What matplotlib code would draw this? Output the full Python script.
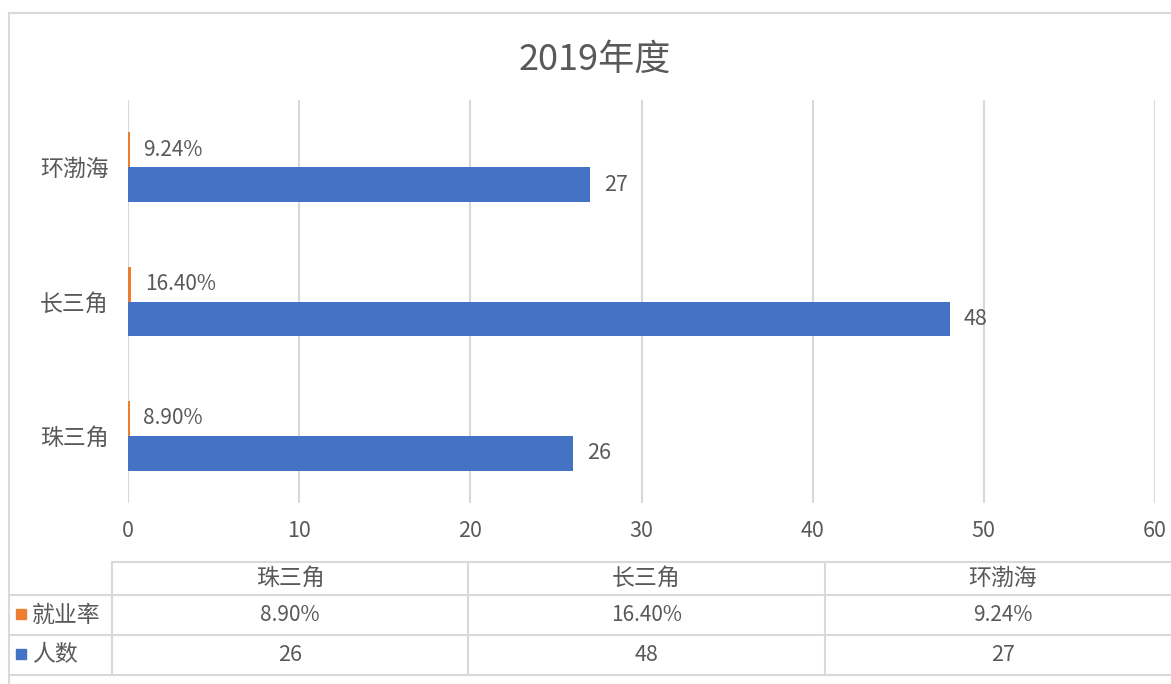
import matplotlib.pyplot as plt
from matplotlib.lines import Line2D
from matplotlib.patches import Rectangle

plt.rcParams['font.family'] = ['Noto Sans CJK SC', 'DejaVu Sans']

regions = ['珠三角', '长三角', '环渤海']
employment_rate = [8.90, 16.40, 9.24]   # percent
headcount = [26, 48, 27]
rate_labels = ['8.90%', '16.40%', '9.24%']
series_names = ['就业率', '人数']

BLUE = '#4472C4'
ORANGE = '#ED7D31'
TEXT = '#595959'
GRID = '#D9D9D9'
CJK_SIZE = 16.5
NUM_SIZE = 15.5
PCT_SIZE = 15

W, H = 1171, 684
fig = plt.figure(figsize=(W / 100, H / 100), dpi=100)


def fx(px):
    return px / W


def fy(py):
    return 1 - py / H


# chart area border (cropped on the right and bottom)
fig.add_artist(Line2D([fx(9), fx(W)], [fy(13), fy(13)], color=GRID, lw=1.5))
fig.add_artist(Line2D([fx(9), fx(9)], [fy(13), fy(H)], color=GRID, lw=1.5))

fig.text(fx(595), fy(60), '2019年度', ha='center', va='center', fontsize=26, color=TEXT)

ax = fig.add_axes([fx(128), fy(503), fx(1155) - fx(128), fy(100) - fy(503)])
y = list(range(len(regions)))
h = 0.26
ax.barh([v - h / 2 for v in y], headcount, height=h, color=BLUE)
ax.barh([v + h / 2 for v in y], [r / 100 for r in employment_rate], height=h, color=ORANGE)

for i in y:
    ax.annotate(str(headcount[i]), (headcount[i], i - h / 2), xytext=(10, 0),
                textcoords='offset points', va='center', ha='left', fontsize=NUM_SIZE, color=TEXT)
    ax.annotate(rate_labels[i], (employment_rate[i] / 100, i + h / 2), xytext=(10, 0),
                textcoords='offset points', va='center', ha='left', fontsize=PCT_SIZE, color=TEXT)

ax.set_xlim(0, 60)
ax.set_ylim(-0.5, 2.5)
ax.set_xticks(range(0, 61, 10))
ax.set_yticks(y)
ax.set_yticklabels(regions)
ax.tick_params(axis='both', length=0, colors=TEXT)
ax.tick_params(axis='x', pad=12, labelsize=NUM_SIZE)
ax.tick_params(axis='y', pad=14, labelsize=CJK_SIZE)
ax.xaxis.grid(True, color=GRID, lw=1.5)
ax.set_axisbelow(True)
for s in ax.spines.values():
    s.set_visible(False)

# data table
col_edges = [112, 468, 825, 1181]
row_lines = [562, 595, 635, 675]
fig.add_artist(Line2D([fx(112), fx(W)], [fy(562), fy(562)], color=GRID, lw=1.5))
for r in row_lines[1:]:
    fig.add_artist(Line2D([fx(9), fx(W)], [fy(r), fy(r)], color=GRID, lw=1.5))
for c in col_edges[:3]:
    fig.add_artist(Line2D([fx(c), fx(c)], [fy(562), fy(675)], color=GRID, lw=1.5))

row_centers = [615, 655]
for j, name in enumerate(regions):
    cx = (col_edges[j] + col_edges[j + 1]) / 2
    fig.text(fx(cx), fy(578), name, ha='center', va='center', fontsize=CJK_SIZE, color=TEXT)
    fig.text(fx(cx), fy(row_centers[0]), rate_labels[j], ha='center', va='center', fontsize=PCT_SIZE, color=TEXT)
    fig.text(fx(cx), fy(row_centers[1]), str(headcount[j]), ha='center', va='center', fontsize=NUM_SIZE, color=TEXT)

for name, color, cy in zip(series_names, [ORANGE, BLUE], row_centers):
    fig.add_artist(Rectangle((fx(16), fy(cy + 4)), fx(26) - fx(16), fy(cy - 6) - fy(cy + 4),
                             color=color, transform=fig.transFigure))
    fig.text(fx(32), fy(cy), name, ha='left', va='center', fontsize=CJK_SIZE, color=TEXT)

fig.savefig('out.png', dpi=100)
